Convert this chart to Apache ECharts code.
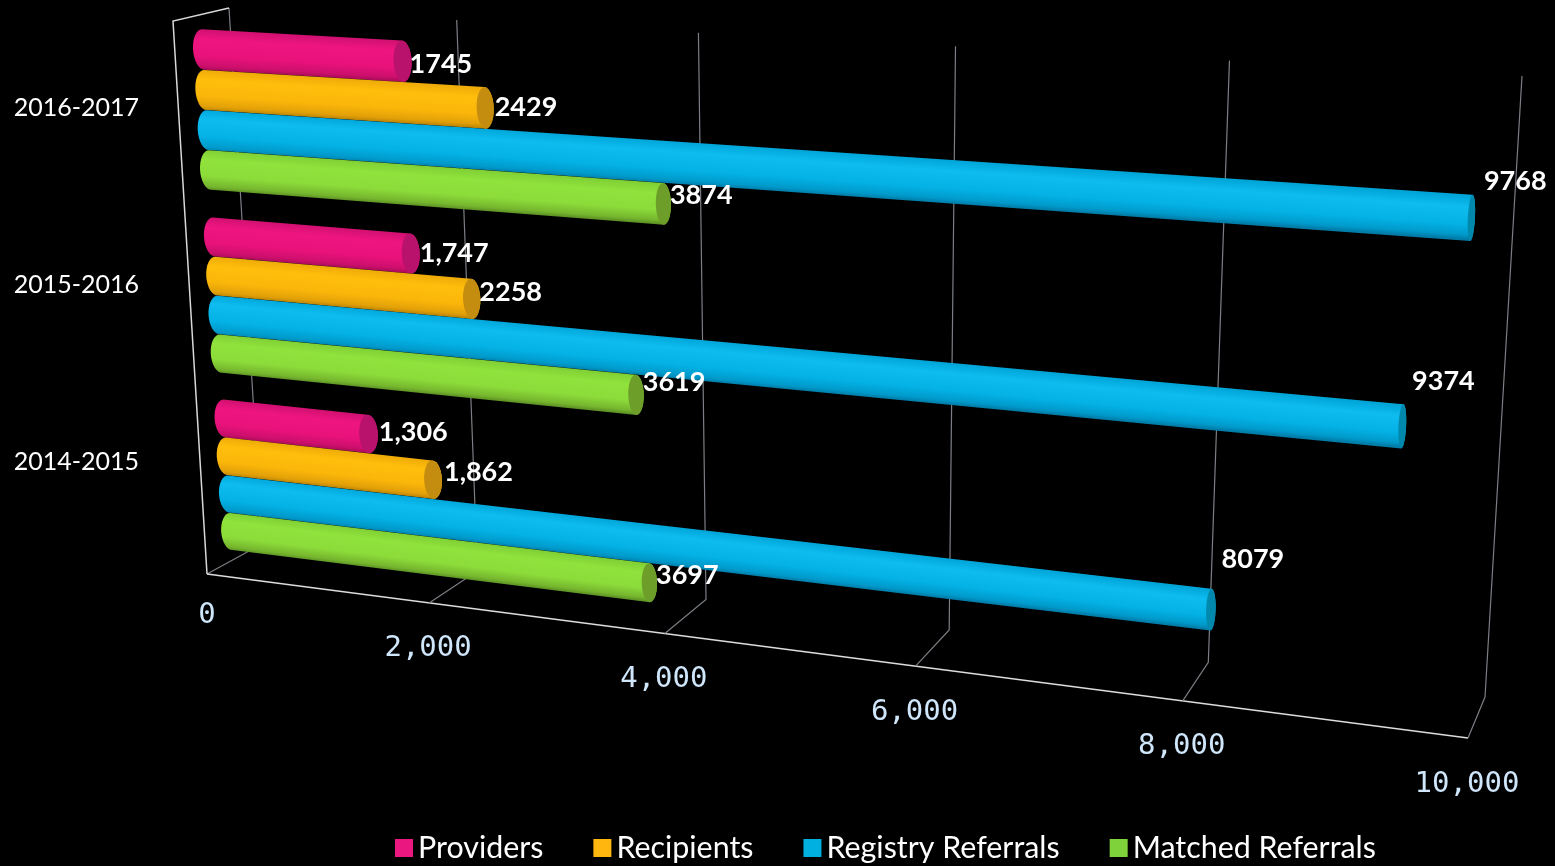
<!DOCTYPE html>
<html>
<head>
<meta charset="utf-8">
<style>html,body{margin:0;padding:0;background:#000}#c{width:1555px;height:866px}</style>
<script src="https://cdn.jsdelivr.net/npm/echarts@6/dist/echarts.min.js"></script>
</head>
<body>
<div id="c"></div>
<script>
const categories = ['2014-2015', '2015-2016', '2016-2017'];
const seriesNames = ['Providers', 'Recipients', 'Registry Referrals', 'Matched Referrals'];
const providers = [1306, 1747, 1745];
const recipients = [1862, 2258, 2429];
const registryReferrals = [8079, 9374, 9768];
const matchedReferrals = [3697, 3619, 3874];
const providerLabels = ['1,306', '1,747', '1745'];
const recipientLabels = ['1,862', '2258', '2429'];
const registryLabels = ['8079', '9374', '9768'];
const matchedLabels = ['3697', '3619', '3874'];
const tickValues = [0, 2000, 4000, 6000, 8000, 10000];
const tickLabels = ['0', '2,000', '4,000', '6,000', '8,000', '10,000'];

const GRID = { left: 147, top: 19, width: 1350, height: 531 };

// Perspective planes of the 3D scene
function homography(q) {
  const [[x0, y0], [x1, y1], [x2, y2], [x3, y3]] = q;
  const dx1 = x1 - x2, dx2 = x3 - x2, sx = x0 - x1 + x2 - x3;
  const dy1 = y1 - y2, dy2 = y3 - y2, sy = y0 - y1 + y2 - y3;
  const det = dx1 * dy2 - dx2 * dy1;
  const g = (sx * dy2 - dx2 * sy) / det, h = (dx1 * sy - sx * dy1) / det;
  const a = x1 - x0 + g * x1, b = x3 - x0 + h * x3, d = y1 - y0 + g * y1, e = y3 - y0 + h * y3;
  return (s, t) => {
    const w = g * s + h * t + 1;
    return [(a * s + b * t + x0) / w, (d * s + e * t + y0) / w];
  };
}
const barPlane = homography([[201, 15], [1514, 86], [1479, 721], [233, 563]]);
const DEPTH_K = 0.855;
function perspectiveEdge(A, B) {
  return s => {
    const w0 = 1 - s, w1 = DEPTH_K * s, w = w0 + w1;
    return [(A[0] * w0 + B[0] * w1) / w, (A[1] * w0 + B[1] * w1) / w];
  };
}
const wallTop = perspectiveEdge([229, 8], [1522, 76]);
const wallBottom = perspectiveEdge([262, 544], [1485, 697]);
const floorFront = perspectiveEdge([207, 574], [1468, 738]);

const styles = [
  { legend: '#e9177f', stops: ['#d01070', '#ee1580', '#e9127b', '#cc0f6c', '#a80c58'], cap: '#b8126c', off: -1.5,
    nudge: [[3, -2], [2, 0], [0, 3]] },
  { legend: '#ffb70f', stops: ['#eeaa08', '#ffbe0c', '#fbb60a', '#e2a008', '#bb8406'], cap: '#c48d10', off: -0.5,
    nudge: [[4, -7], [1, -7], [3, -1]] },
  { legend: '#00b0e0', stops: ['#00a5d8', '#0ebcf0', '#04b2e6', '#009acb', '#007da9'], cap: '#0088ad', off: 0.5,
    nudge: [[8, -50], [8, -45], [11, -37]] },
  { legend: '#80d23b', stops: ['#7fcf34', '#90e23c', '#8cdc3a', '#76b62e', '#5c9024'], cap: '#6d9e2a', off: 1.5,
    nudge: [[1, -7], [1, -13], [1, -9]] }
];
const BAR_SPACING = 0.213, BAR_HALF = 0.106;

function ellipsePts(c, top, bottom, rx, from, to, n) {
  const pts = [];
  for (let i = 0; i <= n; i++) {
    const a = from + (to - from) * i / n;
    pts.push([c[0] + rx * Math.cos(a) + (top[0] - bottom[0]) / 2 * Math.sin(a),
              c[1] + (top[1] - bottom[1]) / 2 * Math.sin(a)]);
  }
  return pts;
}

function barRenderer(idx, labels) {
  const st = styles[idx];
  return function (params, api) {
    const value = api.value(0);
    const p = api.coord([value, api.value(1)]);
    const origin = api.coord([0, api.value(1)]);
    const band = api.size([0, 1])[1];
    const s1 = (p[0] - GRID.left) / GRID.width;
    const s0 = (origin[0] - GRID.left) / GRID.width;
    const tc = (p[1] + st.off * BAR_SPACING * band - GRID.top) / GRID.height;
    const ht = BAR_HALF * band / GRID.height;
    const L = [barPlane(s0, tc - ht), barPlane(s0, tc), barPlane(s0, tc + ht)];
    const R = [barPlane(s1, tc - ht), barPlane(s1, tc), barPlane(s1, tc + ht)];
    const rxEnd = 10.2 - 0.00068 * value, rxStart = 10;
    const leftArc = ellipsePts(L[1], L[0], L[2], -rxStart, Math.PI / 2, -Math.PI / 2, 16);
    const rightArc = ellipsePts(R[1], R[0], R[2], rxEnd, -Math.PI / 2, Math.PI / 2, 14);
    const outline = leftArc.concat(rightArc);
    const mid = [(L[1][0] + R[1][0]) / 2, (L[1][1] + R[1][1]) / 2];
    const dirx = R[1][0] - L[1][0], diry = R[1][1] - L[1][1], len = Math.hypot(dirx, diry);
    const nx = -diry / len, ny = dirx / len;
    const sm = (s0 + s1) / 2;
    const a = barPlane(sm, tc - ht), b = barPlane(sm, tc + ht);
    const hw = Math.hypot(b[0] - a[0], b[1] - a[1]) / 2;
    const gradient = {
      type: 'linear', global: true,
      x: mid[0] - nx * hw, y: mid[1] - ny * hw, x2: mid[0] + nx * hw, y2: mid[1] + ny * hw,
      colorStops: [
        { offset: 0, color: st.stops[0] }, { offset: 0.25, color: st.stops[1] },
        { offset: 0.65, color: st.stops[2] }, { offset: 0.9, color: st.stops[3] }, { offset: 1, color: st.stops[4] }
      ]
    };
    const cap = ellipsePts(R[1], R[0], R[2], rxEnd, 0, Math.PI * 2, 28);
    const n = st.nudge[params.dataIndex];
    return {
      type: 'group',
      children: [
        { type: 'polygon', shape: { points: outline }, style: { fill: gradient }, z2: 1 },
        { type: 'polygon', shape: { points: cap }, style: { fill: st.cap }, z2: 2 },
        {
          type: 'text', z2: 100,
          style: {
            x: R[1][0] + rxEnd - 2 + n[0], y: R[1][1] + n[1],
            text: labels[params.dataIndex], fill: '#ffffff',
            font: 'bold 27px Lato, "Open Sans", sans-serif', textAlign: 'left', textVerticalAlign: 'middle'
          }
        }
      ]
    };
  };
}

function gridRenderer(params, api) {
  const v = api.value(0);
  const p = api.coord([v, 0]);
  const s = (p[0] - GRID.left) / GRID.width;
  const F = floorFront(s), B = wallBottom(s), T = wallTop(s);
  const children = [
    { type: 'polyline', shape: { points: [F, B, T] }, style: { stroke: '#7b7f85', lineWidth: 1.2, fill: 'none' } },
    {
      type: 'text',
      style: {
        x: F[0] - (v === 0 ? 0 : 1), y: F[1] + (v === 0 ? 41 : 46), text: tickLabels[params.dataIndex],
        fill: '#cfe6fb', font: '29px "DejaVu Sans Mono", monospace', textAlign: 'center', textVerticalAlign: 'middle'
      }
    }
  ];
  if (v === 0) {
    const end = floorFront(1);
    children.push(
      { type: 'line', shape: { x1: F[0], y1: F[1], x2: end[0], y2: end[1] }, style: { stroke: '#dcdcdc', lineWidth: 1.6 } },
      { type: 'polyline', shape: { points: [F, [173, 21], T] }, style: { stroke: '#d8d8d8', lineWidth: 1.5, fill: 'none' } }
    );
  }
  return { type: 'group', children };
}

function rows(values) { return values.map((v, i) => [v, i]); }
const valueSets = [providers, recipients, registryReferrals, matchedReferrals];
const labelSets = [providerLabels, recipientLabels, registryLabels, matchedLabels];

const chart = echarts.init(document.getElementById('c'), null, { renderer: 'canvas' });
chart.setOption({
  backgroundColor: '#000000',
  animation: false,
  grid: Object.assign({ containLabel: false }, GRID),
  xAxis: { type: 'value', min: 0, max: 10000, interval: 2000, show: false },
  yAxis: {
    type: 'category', data: categories,
    axisLine: { show: false }, axisTick: { show: false }, splitLine: { show: false },
    axisLabel: { color: '#ffffff', fontSize: 25, fontFamily: 'Lato, sans-serif', margin: 8 }
  },
  legend: {
    data: seriesNames, left: 390, top: 828, itemWidth: 18, itemHeight: 18, itemGap: 50, icon: 'rect',
    textStyle: { color: '#ffffff', fontSize: 30.4, fontFamily: 'Lato, sans-serif' }
  },
  series: [
    {
      type: 'custom', name: 'axis', silent: true, z: 1, coordinateSystem: 'cartesian2d',
      data: tickValues.map(v => [v, 0]), encode: { x: 0, y: 1 }, renderItem: gridRenderer
    }
  ].concat(seriesNames.map((name, i) => ({
    type: 'custom', name, z: 2, coordinateSystem: 'cartesian2d',
    itemStyle: { color: styles[i].legend },
    data: rows(valueSets[i]), encode: { x: 0, y: 1 },
    renderItem: barRenderer(i, labelSets[i])
  })))
});
</script>
</body>
</html>
